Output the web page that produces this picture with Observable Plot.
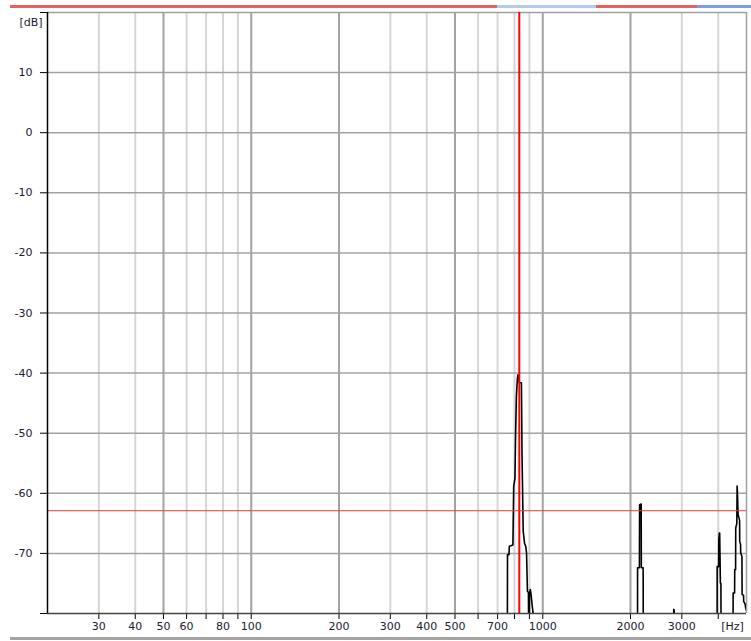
<!DOCTYPE html>
<html>
<head>
<meta charset="utf-8">
<script src="https://cdn.jsdelivr.net/npm/d3@7"></script>
<script src="https://cdn.jsdelivr.net/npm/@observablehq/plot@0.6"></script>
<style>
  html, body { margin: 0; padding: 0; background: white; }
  #page { position: relative; width: 751px; height: 641px; overflow: hidden; }
  #topbar { position: relative; height: 10px; }
  #topbar div { position: absolute; top: 5px; height: 3px; }
  #bottombar { position: absolute; left: 10px; right: 0; top: 637px; height: 3px; background: #a4a4a4; }
  svg { display: block; }
</style>
</head>
<body>
<div id="page">
  <div id="topbar">
    <div style="left:10px;width:487px;background:#e06464"></div>
    <div style="left:497px;width:99px;background:#b4c9ee"></div>
    <div style="left:596px;width:101px;background:#e06464"></div>
    <div style="left:697px;width:54px;background:#7f9fe2"></div>
  </div>
  <div id="chart"></div>
  <div id="bottombar"></div>
</div>
<script>
// ---- data ----
const spectrumHz = [20, 740, 756, 757, 766, 768, 790, 795, 803, 807, 812, 818, 822, 826, 830, 845, 849, 853, 857, 866, 875, 880, 886, 893, 895, 899, 901, 906, 913, 919, 927, 931, 1000,
  2100, 2114, 2115, 2146, 2149, 2176, 2179, 2210, 2213,
  2800, 2813, 2814, 2826, 2828,
  3900, 3964, 3966, 4012, 4017, 4035, 4045, 4068, 4085, 4092,
  4450, 4497, 4499, 4551, 4556, 4587, 4592, 4632, 4643, 4655, 4678, 4734, 4739, 4771, 4776, 4823, 4829, 4885, 4890, 4950, 4956, 5000];
const spectrumDb = [-95, -95, -85, -70.2, -70.2, -68.8, -68.6, -58.8, -57.5, -50, -44, -41, -40.3, -40.5, -41.6, -41.6, -53.6, -60, -66.3, -68.3, -68.9, -70, -76.3, -76.5, -85, -85, -76.8, -76, -77, -78.5, -80, -85, -95,
  -95, -85, -72.4, -72.4, -61.9, -61.8, -72.4, -72.4, -85,
  -95, -85, -79.3, -79.5, -85,
  -95, -85, -72.2, -72.2, -67.7, -66.6, -66.6, -74.9, -75, -85,
  -95, -85, -76.6, -76.6, -72.7, -72.7, -65.8, -65, -58.8, -60, -63.5, -64.5, -68, -68.5, -69.9, -70.5, -76.8, -77, -78, -78.5, -78.8, -79.5];

const xTickHz = [30, 40, 50, 60, 70, 80, 90, 100, 200, 300, 400, 500, 600, 700, 800, 900, 1000, 2000, 3000, 4000];
const xLabeledHz = [30, 40, 50, 60, 80, 100, 200, 300, 400, 500, 700, 1000, 2000, 3000];
const xUnitLabel = "[Hz]";
const yUnitLabel = "[dB]";
const lightGridHz = [30, 40, 60, 70, 80, 90, 300, 400, 600, 700, 800, 900, 3000, 4000];
const darkGridHz = [50, 100, 200, 500, 1000, 2000];
const yTickDb = [-80, -70, -60, -50, -40, -30, -20, -10, 0, 10, 20];
const yGridDb = [-70, -60, -50, -40, -30, -20, -10, 0, 10];
const cursorHz = 831;
const cursorDb = -62.9;
const xDomain = [20, 5000];
const yDomain = [-80, 20];

const spectrum = spectrumHz.map((hz, i) => ({hz, db: spectrumDb[i]}));
const textColor = "#1a1a33";

const chart = Plot.plot({
  width: 751,
  height: 626,
  marginLeft: 47,
  marginRight: 5,
  marginTop: 2,
  marginBottom: 23,
  style: {fontFamily: "DejaVu Sans", fontSize: "11px", color: textColor, background: "white"},
  x: {type: "log", domain: xDomain},
  y: {domain: yDomain},
  marks: [
    Plot.ruleX(lightGridHz, {stroke: "#d6d6d6", strokeWidth: 2}),
    Plot.ruleX(darkGridHz, {stroke: "#a2a2a2", strokeWidth: 2}),
    Plot.ruleY(yGridDb, {stroke: "#a2a2a2", strokeWidth: 1.5}),
    Plot.ruleY([yDomain[1]], {stroke: "#a0a0a0", strokeWidth: 1.5}),
    Plot.ruleX([xDomain[1]], {stroke: "#a0a0a0", strokeWidth: 1.5}),
    Plot.line(spectrum, {x: "hz", y: "db", stroke: "black", strokeWidth: 1.6, clip: true}),
    Plot.ruleX([cursorHz], {stroke: "#ff0000", strokeWidth: 2}),
    Plot.ruleY([cursorDb], {stroke: "#e83a3a", strokeWidth: 1}),
    Plot.axisY({ticks: yTickDb, tickSize: 7, tickPadding: 8, stroke: "black", fontSize: 11,
      tickFormat: d => (d === 20 || d === -80) ? "" : String(d), label: null}),
    Plot.axisY({ticks: [yDomain[1]], tickSize: 0, tickPadding: 5, dy: 10, fontSize: 11,
      tickFormat: () => yUnitLabel, label: null}),
    Plot.axisX({ticks: xTickHz, tickSize: 6, stroke: "black", tickFormat: () => "", label: null}),
    Plot.text(xLabeledHz, {x: d => d, frameAnchor: "bottom", dy: 16, text: d => String(d), fill: textColor, fontSize: 11}),
    Plot.text([xDomain[1]], {x: d => d, frameAnchor: "bottom", dy: 16, dx: -14, text: () => xUnitLabel, fill: textColor, fontSize: 11}),
    Plot.ruleX([xDomain[0]], {stroke: "black", strokeWidth: 1.5}),
    Plot.ruleY([yDomain[0]], {stroke: "#444", strokeWidth: 1.5})
  ]
});
document.getElementById("chart").appendChild(chart);
</script>
</body>
</html>
